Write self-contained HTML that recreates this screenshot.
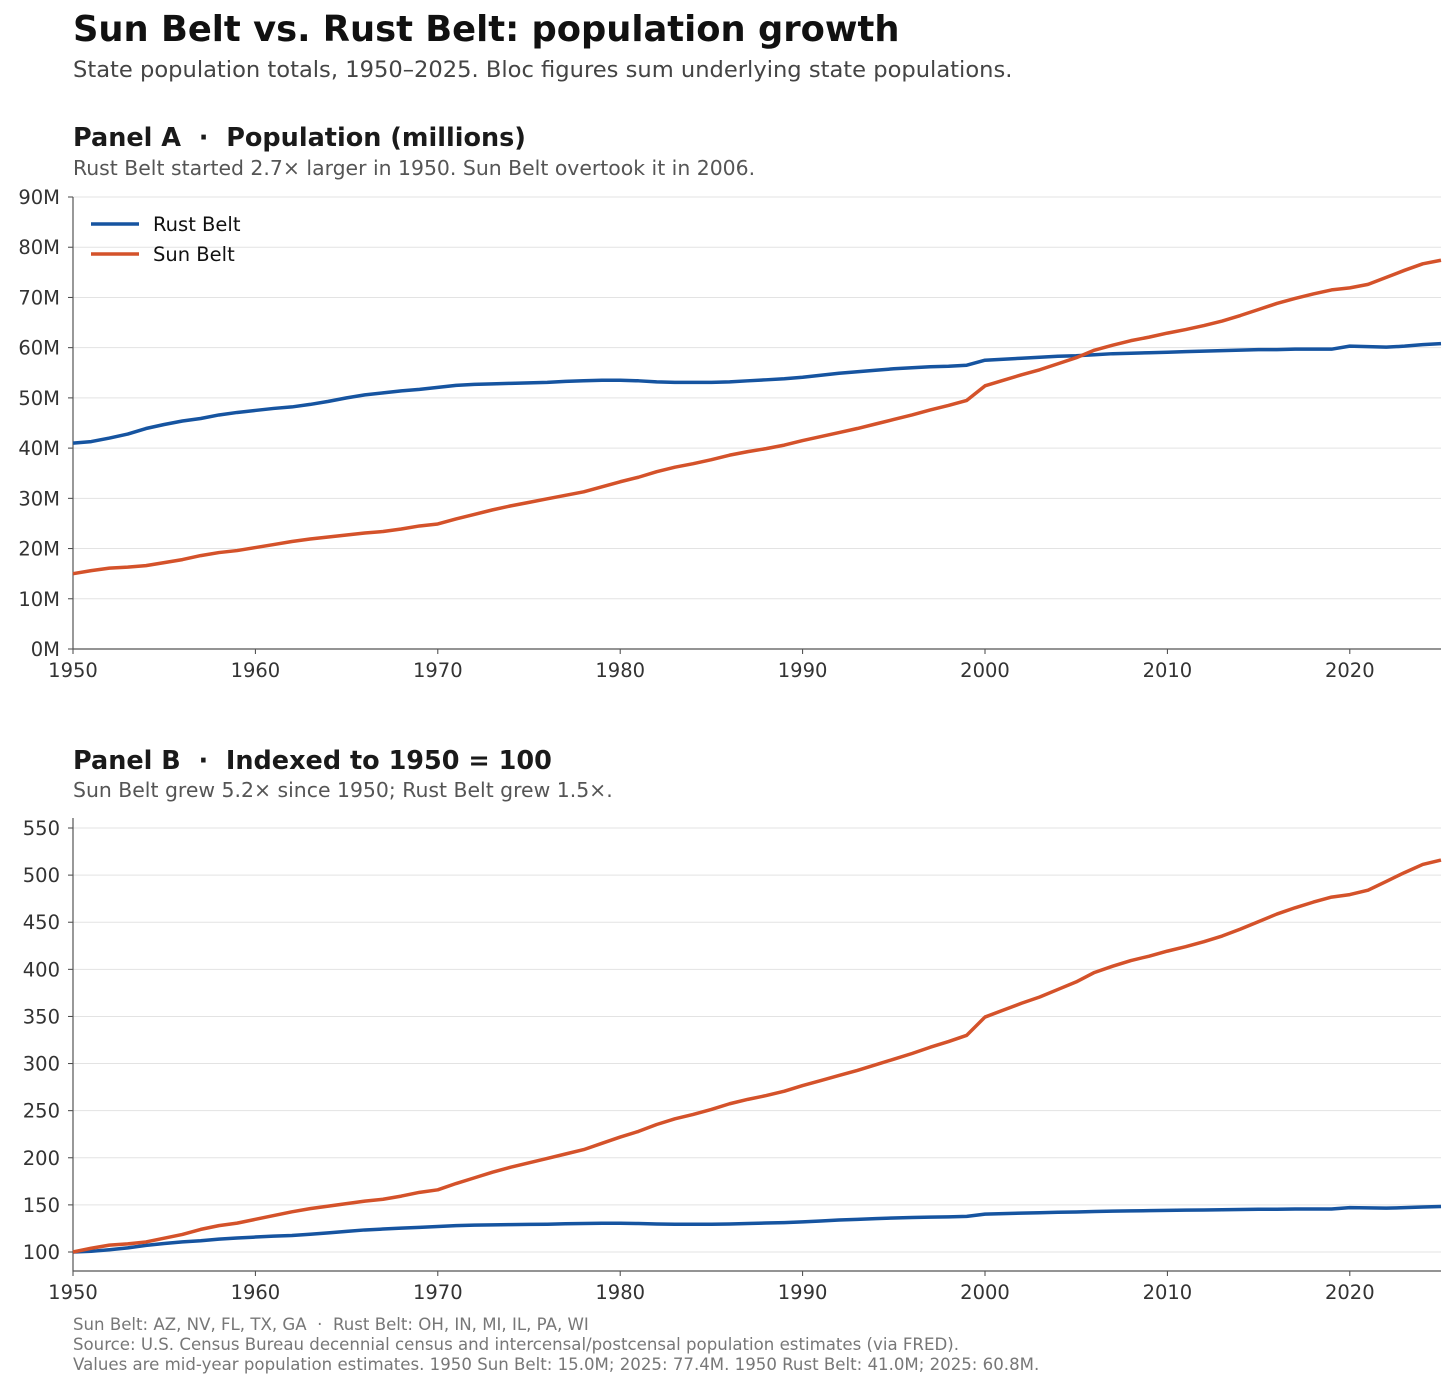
<!DOCTYPE html>
<html><head><meta charset="utf-8"><style>
body{margin:0;background:#fff;}
svg text{font-family:"DejaVu Sans","Liberation Sans",sans-serif;white-space:pre;}
</style></head><body>
<svg id="chart" width="1456" height="1387" xmlns="http://www.w3.org/2000/svg">
<text x="73" y="41" font-size="35.3" font-weight="bold" fill="#111">Sun Belt vs. Rust Belt: population growth</text>
<text x="73" y="77" font-size="22.6" fill="#444">State population totals, 1950–2025. Bloc figures sum underlying state populations.</text>
<text x="73" y="146" font-size="25.5" font-weight="bold" fill="#1a1a1a">Panel A  ·  Population (millions)</text>
<text x="73" y="175" font-size="20.4" fill="#555">Rust Belt started 2.7× larger in 1950. Sun Belt overtook it in 2006.</text>
<text x="73" y="769" font-size="25.5" font-weight="bold" fill="#1a1a1a">Panel B  ·  Indexed to 1950 = 100</text>
<text x="73" y="797" font-size="20.4" fill="#555">Sun Belt grew 5.2× since 1950; Rust Belt grew 1.5×.</text>
<g id="panelA"></g>
<g id="panelB"></g>
<text x="73" y="1330" font-size="16.6" fill="#777">Sun Belt: AZ, NV, FL, TX, GA  ·  Rust Belt: OH, IN, MI, IL, PA, WI</text>
<text x="73" y="1350" font-size="16.6" fill="#777">Source: U.S. Census Bureau decennial census and intercensal/postcensal population estimates (via FRED).</text>
<text x="73" y="1370" font-size="16.6" fill="#777">Values are mid-year population estimates. 1950 Sun Belt: 15.0M; 2025: 77.4M. 1950 Rust Belt: 41.0M; 2025: 60.8M.</text>
</svg>
<script>
const startYear = 1950;
const rustBelt = [41.0,41.3,42.0,42.8,43.9,44.7,45.4,45.9,46.6,47.1,47.5,47.9,48.2,48.7,49.3,50.0,50.6,51.0,51.4,51.7,52.1,52.5,52.7,52.8,52.9,53.0,53.1,53.3,53.4,53.5,53.5,53.4,53.2,53.1,53.1,53.1,53.2,53.4,53.6,53.8,54.1,54.5,54.9,55.2,55.5,55.8,56.0,56.2,56.3,56.5,57.5,57.7,57.9,58.1,58.3,58.4,58.6,58.8,58.9,59.0,59.1,59.2,59.3,59.4,59.5,59.6,59.6,59.7,59.7,59.7,60.3,60.2,60.1,60.3,60.6,60.8];
const sunBelt = [15.0,15.6,16.1,16.3,16.6,17.2,17.8,18.6,19.2,19.6,20.2,20.8,21.4,21.9,22.3,22.7,23.1,23.4,23.9,24.5,24.9,25.9,26.8,27.7,28.5,29.2,29.9,30.6,31.3,32.3,33.3,34.2,35.3,36.2,36.9,37.7,38.6,39.3,39.9,40.6,41.5,42.3,43.1,43.9,44.8,45.7,46.6,47.6,48.5,49.5,52.4,53.5,54.6,55.6,56.8,58.0,59.5,60.5,61.4,62.1,62.9,63.6,64.4,65.3,66.4,67.6,68.8,69.8,70.7,71.5,71.9,72.6,74.0,75.4,76.7,77.4];
const xTicks = [1950,1960,1970,1980,1990,2000,2010,2020];
const yTicksA = [0,10,20,30,40,50,60,70,80,90];
const yTicksB = [100,150,200,250,300,350,400,450,500,550];

const NS="http://www.w3.org/2000/svg";
function mk(tag,attrs,parent){const e=document.createElementNS(NS,tag);for(const k in attrs)e.setAttribute(k,attrs[k]);parent.appendChild(e);return e;}
const X0=73,X1=1441,Y0=1950,Y1=2025;
const xs=y=>X0+(y-Y0)/(Y1-Y0)*(X1-X0);
const blue='#1654a0', orange='#d4522a';

function panel(g,top,bottom,dmin,dmax,ticks,fmt,series){
  const ys=v=>bottom-(v-dmin)/(dmax-dmin)*(bottom-top);
  ticks.forEach(t=>{
    const l=mk('line',{x1:X0,x2:X1,y1:ys(t),y2:ys(t),stroke:'#e3e3e3','stroke-width':1},g);
    
    
    mk('line',{x1:X0-5,x2:X0,y1:ys(t),y2:ys(t),stroke:'#444'},g);
    const tx=mk('text',{x:X0-13,y:ys(t)+7,'text-anchor':'end','font-size':19.5,fill:'#333'},g);
    tx.textContent=fmt(t);
    
    
  });
  xTicks.forEach(t=>{
    mk('line',{x1:xs(t),x2:xs(t),y1:bottom,y2:bottom+5,stroke:'#444'},g);
    const tx=mk('text',{x:xs(t),y:bottom+28,'text-anchor':'middle','font-size':19.5,fill:'#333'},g);
    tx.textContent=t;
    
    
  });
  const ax=mk('path',{d:`M${X0},${top}V${bottom}H${X1}`,fill:'none',stroke:'#555','stroke-width':1.2},g);
  
  
  series.forEach(s=>{
    const d=s.vals.map((v,i)=>(i?'L':'M')+xs(startYear+i).toFixed(2)+','+ys(v).toFixed(2)).join('');
    const p=mk('path',{d:d,fill:'none',stroke:s.color,'stroke-width':3.5,'stroke-linejoin':'round'},g);
    
    
  });
}
panel(document.getElementById('panelA'),197,649,0,90,yTicksA,t=>t+'M',[
  {vals:rustBelt,color:blue,name:'rust-belt-line'},{vals:sunBelt,color:orange,name:'sun-belt-line'}]);
const rustIdx=rustBelt.map(v=>v/rustBelt[0]*100), sunIdx=sunBelt.map(v=>v/sunBelt[0]*100);
(function(){
  const per=(1252-828)/450;
  const dmin=100-(1271-1252)/per, dmax=550+(828-818)/per;
  panel(document.getElementById('panelB'),818,1271,dmin,dmax,yTicksB,t=>t,[
    {vals:rustIdx,color:blue,name:'rust-belt-indexed-line'},{vals:sunIdx,color:orange,name:'sun-belt-indexed-line'}]);
})();
(function(){
  const g=mk('g',{},document.getElementById('chart'));
  
  
  [['Rust Belt',blue,224],['Sun Belt',orange,254]].forEach(([n,c,y])=>{
    mk('line',{x1:91,x2:139,y1:y,y2:y,stroke:c,'stroke-width':3.5},g);
    const t=mk('text',{x:153,y:y+7,'font-size':19.5,fill:'#111'},g);
    t.textContent=n;
    
    
  });
})();
</script>
</body></html>
